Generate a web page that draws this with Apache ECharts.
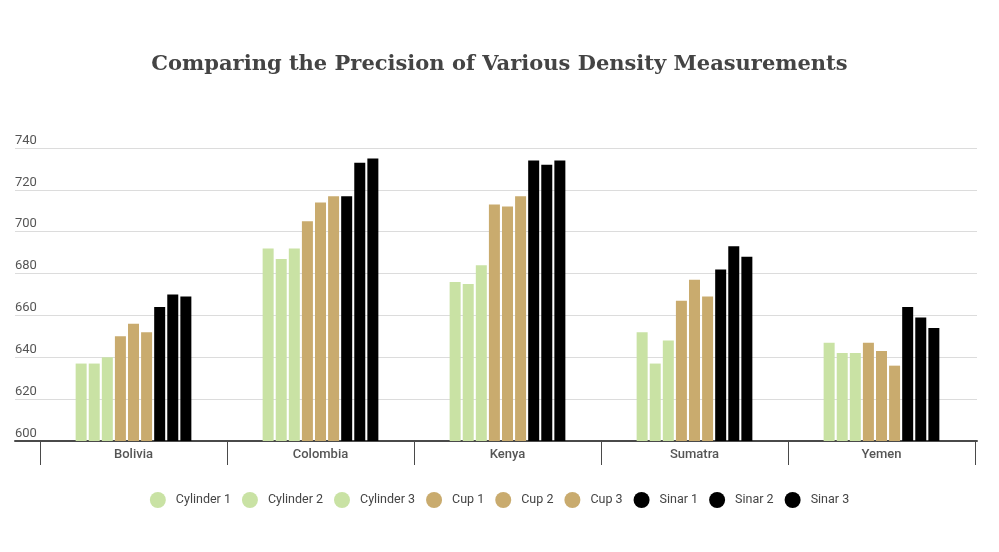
<!DOCTYPE html>
<html>
<head>
<meta charset="utf-8">
<script src="https://cdn.jsdelivr.net/npm/echarts@6/dist/echarts.min.js"></script>
<style>
  html, body { margin: 0; padding: 0; background: #fff; }
  #chart { width: 999px; height: 552px; }
</style>
</head>
<body>
<div id="chart"></div>
<script>
// density readings per origin
const origins = ['Bolivia', 'Colombia', 'Kenya', 'Sumatra', 'Yemen'];

const cylinder1 = [637, 692, 676, 652, 647];
const cylinder2 = [637, 687, 675, 637, 642];
const cylinder3 = [640, 692, 684, 648, 642];
const cup1 = [650, 705, 713, 667, 647];
const cup2 = [656, 714, 712, 677, 643];
const cup3 = [652, 717, 717, 669, 636];
const sinar1 = [664, 717, 734, 682, 664];
const sinar2 = [670, 733, 732, 693, 659];
const sinar3 = [669, 735, 734, 688, 654];

const yTicks = { min: 600, max: 740, step: 20 };

const COLORS = {
    cylinder: '#c9e2a4',
    cup: '#c9ab6e',
    sinar: '#000000',
    grid: '#dcdcdc',
    axis: '#4a4a4a',
    text: '#555555',
    title: '#444444'
};

const seriesDefs = [
    { name: 'Cylinder 1', data: cylinder1, color: COLORS.cylinder },
    { name: 'Cylinder 2', data: cylinder2, color: COLORS.cylinder },
    { name: 'Cylinder 3', data: cylinder3, color: COLORS.cylinder },
    { name: 'Cup 1', data: cup1, color: COLORS.cup },
    { name: 'Cup 2', data: cup2, color: COLORS.cup },
    { name: 'Cup 3', data: cup3, color: COLORS.cup },
    { name: 'Sinar 1', data: sinar1, color: COLORS.sinar },
    { name: 'Sinar 2', data: sinar2, color: COLORS.sinar },
    { name: 'Sinar 3', data: sinar3, color: COLORS.sinar }
];

const chart = echarts.init(document.getElementById('chart'), null, { renderer: 'canvas' });

const option = {
    backgroundColor: '#fff',
    animation: false,
    title: {
        text: 'Comparing the Precision of Various Density Measurements',
        left: 'center',
        top: 49,
        textStyle: { fontFamily: 'DejaVu Serif', fontWeight: 'bold', fontSize: 21, color: COLORS.title }
    },
    legend: {
        left: 'center',
        top: 487,
        icon: 'circle',
        itemWidth: 16,
        itemHeight: 16,
        itemGap: 11,
        data: seriesDefs.map(s => s.name),
        textStyle: { fontFamily: 'Roboto', fontSize: 12.5, color: '#444', padding: [0, 0, 0, 5] }
    },
    // grid 0 = full-width gridlines + y labels, grid 1 = bars and categories
    grid: [
        { left: 15, right: 22, top: 148, bottom: 111 },
        { left: 40, right: 24, top: 148, bottom: 111 }
    ],
    xAxis: [
        {
            type: 'category',
            gridIndex: 0,
            data: [''],
            axisLine: { show: true, lineStyle: { color: COLORS.axis, width: 2 } },
            axisTick: { show: false },
            axisLabel: { show: false }
        },
        {
            type: 'category',
            gridIndex: 1,
            data: origins,
            axisLine: { show: false },
            axisTick: { show: true, length: 24, lineStyle: { color: COLORS.axis, width: 1 } },
            axisLabel: { color: COLORS.text, fontFamily: 'Roboto', fontSize: 13, fontWeight: 500, margin: 7 }
        }
    ],
    yAxis: [
        {
            type: 'value',
            gridIndex: 0,
            min: yTicks.min,
            max: yTicks.max,
            interval: yTicks.step,
            axisLine: { show: false },
            axisTick: { show: false },
            splitLine: { show: true, lineStyle: { color: COLORS.grid, width: 1 } },
            axisLabel: {
                inside: true,
                margin: 0,
                verticalAlign: 'bottom',
                padding: [0, 0, 1, 0],
                color: COLORS.text,
                fontFamily: 'Roboto',
                fontSize: 13
            }
        },
        {
            type: 'value',
            gridIndex: 1,
            min: yTicks.min,
            max: yTicks.max,
            interval: yTicks.step,
            show: false,
            splitLine: { show: false }
        }
    ],
    series: seriesDefs.map(s => ({
        name: s.name,
        type: 'bar',
        xAxisIndex: 1,
        yAxisIndex: 1,
        data: s.data,
        barWidth: 11,
        barGap: '19%',
        itemStyle: { color: s.color }
    }))
};

chart.setOption(option);
</script>
</body>
</html>
